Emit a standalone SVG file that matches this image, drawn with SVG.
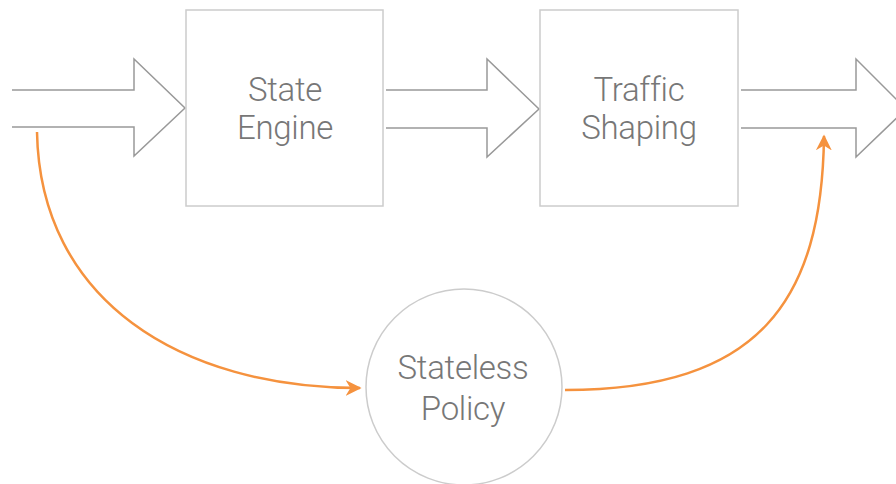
<svg xmlns="http://www.w3.org/2000/svg" width="896" height="484" viewBox="0 0 896 484">
<defs>
<marker id="oa" viewBox="0 0 10 10" refX="9" refY="5" markerWidth="16" markerHeight="16" markerUnits="userSpaceOnUse" orient="auto">
<path d="M0,0 L10,5 L0,10 L3,5 Z" fill="#F5923E"/>
</marker>
</defs>
<style>
.big{fill:#fff;stroke:#999;stroke-width:1.5;stroke-linejoin:miter}
.box{fill:#fff;stroke:#ccc;stroke-width:1.5}
.lbl{font-family:Roboto,"Liberation Sans",Arial,sans-serif;font-weight:300;font-size:33px;fill:#777;text-anchor:middle;letter-spacing:-0.3px}
.or{fill:none;stroke:#F5923E;stroke-width:2.5}
</style>
<rect width="896" height="484" fill="#fff"/>
<g id="connectors">
<path class="big" d="M12,90 H134 V59 L185,108 L134,156 V127 H12"/>
<path class="big" d="M386,90 H487 V59 L539,109 L487,157 V128 H386"/>
<path class="big" d="M741,90 H856 V59 L906,109 L856,157 V128 H741"/>
<path class="or" d="M37,132 C40,300 180,388 360,388" marker-end="url(#oa)"/>
<path class="or" d="M565,390 C760,390 822,300 824,136" marker-end="url(#oa)"/>
</g>
<g id="state-engine">
<rect class="box" x="186" y="10" width="197" height="196"/>
<text class="lbl" x="285" y="101">State</text>
<text class="lbl" x="285" y="139">Engine</text>
</g>
<g id="traffic-shaping">
<rect class="box" x="540" y="10" width="198" height="196"/>
<text class="lbl" x="639" y="101">Traffic</text>
<text class="lbl" x="639" y="139">Shaping</text>
</g>
<g id="stateless-policy">
<circle class="box" cx="464" cy="387" r="98"/>
<text class="lbl" x="463" y="379">Stateless</text>
<text class="lbl" x="463" y="420">Policy</text>
</g>
</svg>
